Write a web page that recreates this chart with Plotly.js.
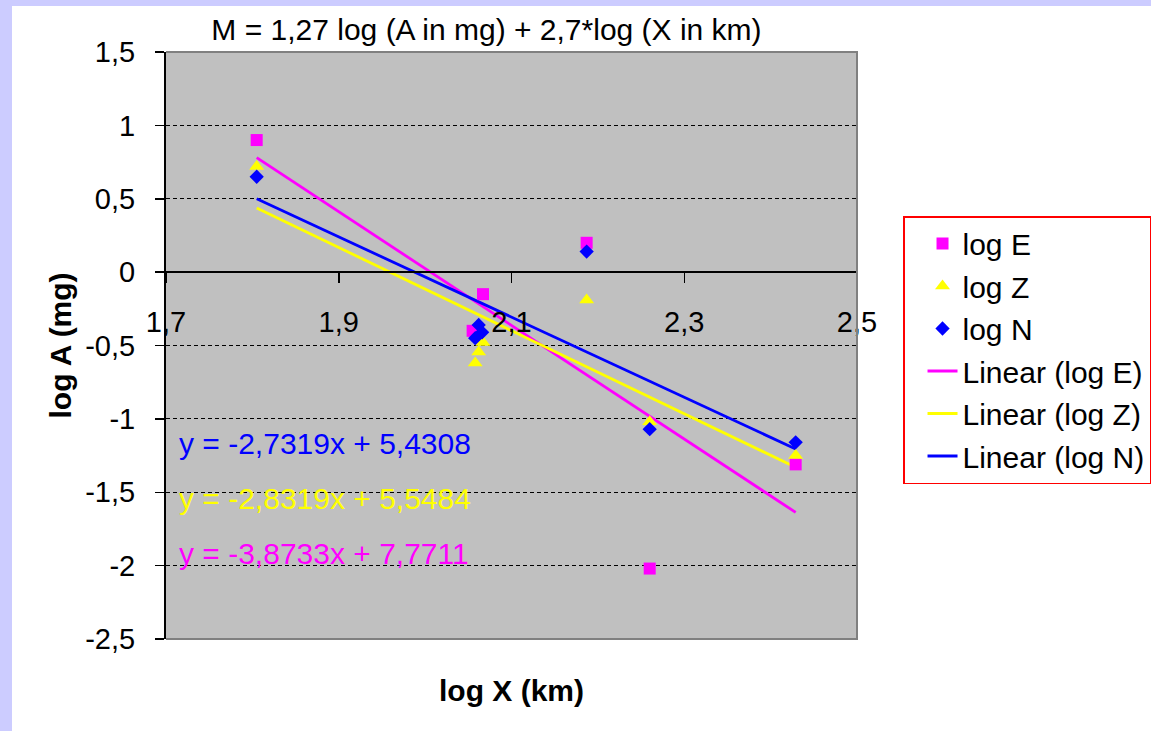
<!DOCTYPE html>
<html>
<head>
<meta charset="utf-8">
<script src="https://cdn.plot.ly/plotly-3.0.1.min.js"></script>
<style>
  html, body { margin: 0; padding: 0; background: #ccccff; overflow: hidden; width: 1151px; height: 731px; }
  #chart { position: absolute; left: 12px; top: 6px; width: 1190px; height: 740px; }
</style>
</head>
<body>
<div id="chart"></div>
<script>
// ---- data ----
const E_x = [1.805, 2.055, 2.067, 2.187, 2.260, 2.429];
const E_y = [0.90, -0.40, -0.15, 0.20, -2.02, -1.31];

const Z_x = [1.805, 2.058, 2.062, 2.067, 2.187, 2.260, 2.429];
const Z_y = [0.72, -0.62, -0.545, -0.48, -0.19, -1.02, -1.25];

const N_x = [1.805, 2.058, 2.062, 2.066, 2.187, 2.260, 2.429];
const N_y = [0.65, -0.45, -0.36, -0.41, 0.14, -1.07, -1.16];

const seriesNames = ['log E', 'log Z', 'log N'];
const trendNames = ['Linear (log E)', 'Linear (log Z)', 'Linear (log N)'];
const trendSlopes = [-3.8733, -2.8319, -2.7319];
const trendIntercepts = [7.7711, 5.5484, 5.4308];
const equationTexts = ['y = -3,8733x + 7,7711', 'y = -2,8319x + 5,5484', 'y = -2,7319x + 5,4308'];
const equationPosY = [-1.915, -1.54, -1.165];

const yTickVals = [1.5, 1, 0.5, 0, -0.5, -1, -1.5, -2, -2.5];
const yTickText = ['1,5', '1', '0,5', '0', '-0,5', '-1', '-1,5', '-2', '-2,5'];
const xTickVals = [1.7, 1.9, 2.1, 2.3, 2.5];
const xTickText = ['1,7', '1,9', '2,1', '2,3', '2,5'];

const colors = ['#ff00ff', '#ffff00', '#0000ff'];
const symbols = ['square', 'triangle-up', 'diamond'];
const sizes = [12, 13, 11];
const FONT = 'Liberation Sans, Arial, sans-serif';

const xs = [E_x, Z_x, N_x];
const ys = [E_y, Z_y, N_y];

const traces = [];
// trend lines (drawn first so markers sit on top)
for (let i = 0; i < 3; i++) {
  const xmin = Math.min(...xs[i]);
  const xmax = Math.max(...xs[i]);
  traces.push({
    x: [xmin, xmax],
    y: [trendSlopes[i] * xmin + trendIntercepts[i], trendSlopes[i] * xmax + trendIntercepts[i]],
    mode: 'lines',
    name: trendNames[i],
    line: { color: colors[i], width: 2.8 },
    legendrank: 4 + i,
    legendgroup: 'g' + (4 + i),
    hoverinfo: 'skip'
  });
}
for (let i = 0; i < 3; i++) {
  traces.push({
    x: xs[i],
    y: ys[i],
    mode: 'markers',
    name: seriesNames[i],
    marker: { color: colors[i], symbol: symbols[i], size: sizes[i], line: { width: 0 } },
    legendrank: 1 + i,
    legendgroup: 'g' + (1 + i)
  });
}

const annotations = [];
for (let i = 0; i < 3; i++) {
  annotations.push({
    x: 1.7127, y: equationPosY[i], xref: 'x', yref: 'y',
    xanchor: 'left', yanchor: 'middle', showarrow: false,
    text: equationTexts[i],
    font: { family: FONT, size: 30, color: colors[i] }
  });
}
annotations.push({
  x: 0.5, y: -0.087, xref: 'paper', yref: 'paper', xanchor: 'center', yanchor: 'middle',
  showarrow: false, text: '<b>log X (km)</b>', font: { family: FONT, size: 30, color: '#000' }
});
annotations.push({
  x: -0.152, y: 0.5, xref: 'paper', yref: 'paper', xanchor: 'center', yanchor: 'middle',
  showarrow: false, textangle: -90, text: '<b>log A (mg)</b>', font: { family: FONT, size: 30, color: '#000' }
});

const layout = {
  width: 1190, height: 740,
  margin: { l: 154, r: 345, t: 46, b: 107, pad: 0 },
  paper_bgcolor: '#ffffff',
  plot_bgcolor: '#c0c0c0',
  font: { family: FONT, size: 29, color: '#000' },
  showlegend: true,
  title: {
    text: 'M = 1,27 log (A in mg) + 2,7*log (X in km)',
    font: { family: FONT, size: 30, color: '#000' },
    xref: 'paper', yref: 'paper', x: 0.4638, y: 1.029, xanchor: 'center', yanchor: 'middle'
  },
  xaxis: {
    range: [1.7, 2.5], anchor: 'free', position: 0.625,
    showgrid: false, zeroline: false,
    showline: true, linecolor: '#000', linewidth: 2,
    tickmode: 'array', tickvals: xTickVals, ticktext: xTickText,
    ticks: 'outside', ticklen: 10, tickwidth: 1.5, tickcolor: '#000',
    ticklabelstandoff: 14,
    tickfont: { family: FONT, size: 29, color: '#000' },
    fixedrange: true
  },
  yaxis: {
    range: [-2.5, 1.5],
    showgrid: true, gridcolor: '#000', gridwidth: 1, griddash: '4px,3px',
    zeroline: false,
    showline: true, linecolor: '#000', linewidth: 2,
    tickmode: 'array', tickvals: yTickVals, ticktext: yTickText,
    ticks: 'outside', ticklen: 9, tickwidth: 1.5, tickcolor: '#000',
    ticklabelstandoff: 14,
    tickfont: { family: FONT, size: 29, color: '#000' },
    fixedrange: true
  },
  legend: {
    x: 1.0666, y: 0.7206, xanchor: 'left', yanchor: 'top',
    bgcolor: '#ffffff', bordercolor: '#ff0000', borderwidth: 1.5,
    font: { family: FONT, size: 30, color: '#000' },
    traceorder: 'grouped', tracegroupgap: 0.5,
    indentation: 18
  },
  shapes: [{
    type: 'path', xref: 'paper', yref: 'paper',
    path: 'M0,1 L1,1 L1,0 L0,0',
    line: { color: '#808080', width: 2 }, layer: 'above'
  }],
  annotations: annotations
};

Plotly.newPlot('chart', traces, layout, { displayModeBar: false, staticPlot: true });
</script>
</body>
</html>
